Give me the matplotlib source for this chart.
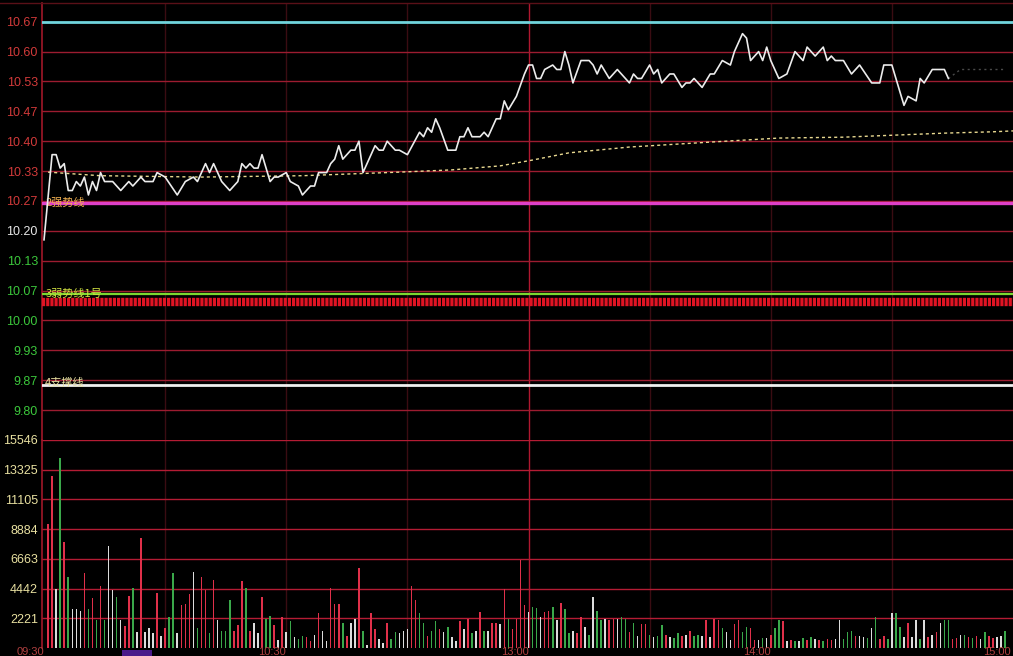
import matplotlib
matplotlib.use('Agg')
import matplotlib.pyplot as plt
from matplotlib.patches import Rectangle
from matplotlib.lines import Line2D

plt.rcParams['font.family'] = ['Noto Sans CJK SC', 'DejaVu Sans']
plt.rcParams['lines.scale_dashes'] = False

# ---------------- data ----------------
prev_close = 10.20
price_step = 0.46667 / 7

price_tick_labels = ['9.80', '9.87', '9.93', '10.00', '10.07', '10.13', '10.20',
                     '10.27', '10.33', '10.40', '10.47', '10.53', '10.60', '10.67']
volume_tick_values = [2221, 4442, 6663, 8884, 11105, 13325, 15546]
time_labels = ['09:30', '10:30', '13:00', '14:00', '15:00']
time_label_minutes = [0, 60, 120, 180, 240]

price_minutes = [0, 2, 3, 4, 5, 6, 7, 8, 9, 10, 11, 12, 13, 14, 15, 17, 19, 21, 22, 24,
                 25, 27, 28, 30, 33, 35, 37, 38, 40, 41, 42, 44, 46, 48, 49, 50, 51, 52, 53, 54,
                 56, 57, 58, 60, 61, 63, 64, 66, 67, 68, 70, 71, 72, 73, 74, 76, 77, 78, 79, 80,
                 82, 83, 84, 85, 87, 88, 90, 93, 94, 95, 96, 97, 98, 100, 102, 103, 104, 105, 106, 108,
                 109, 110, 112, 113, 114, 115, 117, 119, 120, 121, 122, 123, 124, 126, 127, 128, 129, 130, 131, 133,
                 135, 136, 137, 138, 140, 141, 142, 143, 145, 146, 147, 148, 150, 151, 152, 153, 155, 156, 158, 159,
                 160, 161, 163, 165, 166, 168, 170, 171, 173, 174, 175, 177, 178, 179, 180, 182, 184, 186, 188, 189,
                 191, 193, 194, 195, 196, 198, 200, 202, 205, 207, 208, 210, 211, 213, 214, 216, 217, 218, 220, 223,
                 224]
price_values = [10.18, 10.37, 10.37, 10.34, 10.35, 10.29, 10.29, 10.31, 10.30, 10.32, 10.28, 10.31, 10.29, 10.33, 10.31, 10.31, 10.29, 10.31, 10.30, 10.32,
                10.31, 10.31, 10.33, 10.32, 10.28, 10.31, 10.32, 10.31, 10.35, 10.33, 10.35, 10.31, 10.29, 10.31, 10.35, 10.34, 10.35, 10.34, 10.34, 10.37,
                10.31, 10.32, 10.32, 10.33, 10.31, 10.30, 10.28, 10.30, 10.30, 10.33, 10.33, 10.35, 10.36, 10.39, 10.36, 10.38, 10.38, 10.40, 10.33, 10.35,
                10.39, 10.38, 10.38, 10.40, 10.38, 10.38, 10.37, 10.42, 10.41, 10.43, 10.42, 10.45, 10.43, 10.38, 10.38, 10.41, 10.41, 10.43, 10.41, 10.41,
                10.42, 10.41, 10.45, 10.45, 10.49, 10.47, 10.50, 10.55, 10.57, 10.57, 10.54, 10.54, 10.56, 10.57, 10.56, 10.56, 10.60, 10.57, 10.53, 10.58,
                10.58, 10.57, 10.55, 10.57, 10.54, 10.55, 10.56, 10.55, 10.53, 10.55, 10.54, 10.54, 10.57, 10.55, 10.56, 10.53, 10.55, 10.55, 10.52, 10.53,
                10.53, 10.54, 10.52, 10.55, 10.55, 10.58, 10.57, 10.60, 10.64, 10.63, 10.58, 10.60, 10.58, 10.61, 10.58, 10.54, 10.55, 10.60, 10.58, 10.61,
                10.59, 10.61, 10.58, 10.59, 10.58, 10.58, 10.55, 10.57, 10.53, 10.53, 10.57, 10.57, 10.54, 10.48, 10.50, 10.49, 10.54, 10.53, 10.56, 10.56,
                10.54]
faded_minutes = [224, 227, 238]
faded_prices = [10.54, 10.56, 10.56]

avg_minutes = [1, 14, 39, 64, 76, 88, 101, 113, 121, 130, 145, 165, 182, 198, 212, 223, 235, 240]
avg_values = [10.331, 10.323, 10.320, 10.323, 10.327, 10.331, 10.336, 10.345, 10.358, 10.374,
              10.387, 10.398, 10.407, 10.409, 10.414, 10.418, 10.421, 10.423]

volumes = [9260, 12850, 4400, 14200, 7900, 5300, 2900, 2900, 2750, 5600,
           2900, 3700, 2100, 4600, 2100, 7600, 4300, 3800, 2100, 1650,
           3900, 4500, 1200, 8200, 1200, 1500, 1100, 4100, 900, 1500,
           2300, 5600, 1100, 3200, 3300, 4000, 5700, 1500,
           5300, 4300, 1100, 5100, 2100, 1300, 1300, 3600, 1300, 1700,
           5000, 4500, 1300, 1900, 1100, 3800, 2200, 2400, 1700, 600,
           2300, 1200, 2000, 800, 700, 900, 850, 500, 1000, 2600,
           1300, 500, 4500, 3300, 3300, 1900, 900, 1900, 2200, 6000,
           1300, 200, 2600, 1400, 700, 400, 1900, 700, 1200, 1100,
           1300, 1400, 4600, 3600, 2600, 1900, 900, 1300, 2000, 1400,
           1200, 1600, 850, 500, 2000, 1400, 2200, 1100, 1300, 2700,
           1300, 1300, 1900, 1900, 1800, 4400, 2200, 1400, 2200, 6600,
           3200, 2700, 3100, 3000, 2300, 2700, 2800, 3100, 2100, 3400,
           2900, 1100, 1300, 1100, 2300, 1600, 1000, 3800, 2800,
           2100, 2200, 2100, 2200, 2200, 2300, 2200, 1200, 1900, 900,
           1800, 1800, 1000, 800, 900, 1700, 1000, 850, 750, 1100,
           900, 1000, 1300, 900, 1000, 900, 2100, 850, 2200, 2100,
           1500, 1200, 600, 1800, 2100, 1200, 1600, 1500, 600, 600,
           750, 750, 1000, 1500, 2100, 2000, 500, 600, 500, 500,
           750, 600, 850, 700, 600, 500, 700, 600, 700, 2100,
           700, 1200, 1300, 900, 900, 850, 750, 1500, 2300, 700,
           900, 700, 2600, 2600, 1600, 850, 1900, 800, 2100, 700,
           2100, 850, 1000, 1200, 1900, 2100, 2100, 700, 750, 1000,
           1000, 800, 750, 900, 700, 1200, 900, 750, 800, 900,
           1300]
volume_kinds = ("rrwgrgwwwr" "grgrgwwgwr" "rgwrwwwrwr" "ggwrrrwg"
                "rrgrwgggrr" "rgrwwrggrw" "rwgwggrrwr" "wwrrrgrwwr"
                "gwrrwwrggw" "wwrrggrggr" "wgwwrwrgwr" "gwrrwrgrrr"
                "rwggwrrgwr" "ggwrrwgwg"
                "gwrrwggrgw" "rrgwggrwgg" "rwrggwrwrr" "gwwrrggrrw"
                "gwrggrwrgw" "grgwrgrrww" "gggrwwgwgr" "rgwggwrwwg"
                "wrwrwggrrw" "grgrwgrrww" "g")

level_prices = [10.262, 10.060, 9.855]
level_names = ['2强势线', '3弱势线1号', '4支撑线']
red_band_price = 10.041

# ---------------- styling ----------------
W, H = 1013, 656
BG = '#000000'
GRID_RED = '#9c1c30'
VOL_GRID_RED = '#b41c34'
DIM_V = '#3a0c12'
kind_color = {'r': '#e0304a', 'g': '#3aa84a', 'w': '#dcdcdc'}
num_font = 'Liberation Sans'


def fx(px):
    return px / W


def fy(py):
    return 1 - py / H


fig = plt.figure(figsize=(W / 100, H / 100), dpi=100, facecolor=BG)

x0, x1 = 42, 1013
ax1 = fig.add_axes([fx(x0), fy(440), fx(x1) - fx(x0), fy(3) - fy(440)], facecolor=BG)
ax2 = fig.add_axes([fx(x0), fy(648), fx(x1) - fx(x0), fy(440) - fy(648)], facecolor=BG)

xlim = (-0.5, 240)
for ax in (ax1, ax2):
    ax.set_xlim(*xlim)
    for s in ('top', 'right', 'bottom'):
        ax.spines[s].set_visible(False)
    ax.spines['left'].set_color('#a01828')
    ax.spines['left'].set_linewidth(1.2)
    ax.tick_params(axis='x', length=0, labelbottom=False)
    ax.tick_params(axis='y', length=0, pad=3)
    for m in (30, 60, 90, 150, 180, 210):
        ax.axvline(m, color=DIM_V, lw=1.0, zorder=1)
    ax.axvline(120, color='#b01830', lw=1.0, zorder=1)

# ---- price panel ----
px_per_step = 29.9
ymin = prev_close - 7 * price_step
ymax = prev_close + (231 - 3) / px_per_step * price_step
ax1.set_ylim(ymin, ymax)
tick_vals = [prev_close + k * price_step for k in range(-6, 8)]
ax1.set_yticks(tick_vals)
ax1.set_yticklabels(price_tick_labels, fontfamily=num_font, fontsize=9)
for k, lab in zip(range(-6, 8), ax1.get_yticklabels()):
    lab.set_color('#d23a3a' if k > 0 else ('#e8e8e8' if k == 0 else '#3cc83c'))
for v in tick_vals[:-1]:
    ax1.axhline(v, color=GRID_RED, lw=1.0, zorder=1)

# top cyan line at 10.67
ax1.axhline(tick_vals[-1], color='#70d4dc', lw=2.0, zorder=3)
# level lines
ax1.axhline(level_prices[0], color='#e040c8', lw=2.4, zorder=3)
ax1.axhline(level_prices[1], color='#7ad830', lw=1.6, zorder=3)
ax1.axhline(red_band_price, color='#e01424', lw=6.0, zorder=3,
            linestyle=(0, (2.3, 0.7)))
ax1.axhline(level_prices[2], color='#f0f0f0', lw=2.0, zorder=3)

label_colors = ['#f0b050', '#d0e040', '#e8e0a0']
label_offsets = [0.0, 0.0, 0.006]
for p, name, c, off in zip(level_prices, level_names, label_colors, label_offsets):
    ax1.text(0.3, p + off, name, color=c, fontsize=8, va='center', ha='left', zorder=5,
             family=['Noto Sans CJK SC', 'DejaVu Sans'])

# price and average lines
ax1.plot(avg_minutes, avg_values, color='#e8d890', lw=1.0, linestyle=(0, (2.2, 2.2)), zorder=4)
ax1.plot(price_minutes, price_values, color='#ececec', lw=1.2, zorder=6)
ax1.plot(faded_minutes, faded_prices, color='#4a4a4a', lw=1.0, linestyle=(0, (1.5, 2.5)), zorder=5)

# ---- volume panel ----
ax2.set_ylim(0, volume_tick_values[-1])
ax2.set_yticks(volume_tick_values)
ax2.set_yticklabels([str(v) for v in volume_tick_values], fontfamily=num_font, fontsize=9)
for lab in ax2.get_yticklabels():
    lab.set_color('#e8e0a0')
for v in volume_tick_values:
    ax2.axhline(v, color=VOL_GRID_RED, lw=1.0, zorder=1)
vol_x = list(range(1, 1 + len(volumes)))
vol_c = [kind_color[k] for k in volume_kinds]
ax2.bar(vol_x[:len(vol_c)], volumes[:len(vol_c)], width=0.38, color=vol_c, zorder=3, linewidth=0)

# ---- frame extras ----
fig.add_artist(Line2D([fx(0), fx(W)], [fy(3), fy(3)], color='#5a1018', lw=1.0))
fig.add_artist(Rectangle((fx(122), fy(656)), fx(30), fy(650) - fy(656), color='#4a1a8a', lw=0))

# time labels at the bottom edge
for m, t in zip(time_label_minutes, time_labels):
    xpix = x0 + (m - xlim[0]) / (xlim[1] - xlim[0]) * (x1 - x0)
    fig.text(fx(min(xpix, W - 2)), fy(655), t, color='#b04040', fontsize=8,
             ha='right', va='baseline', fontfamily=num_font, zorder=10)

fig.savefig('out.png', dpi=100, facecolor=BG)
